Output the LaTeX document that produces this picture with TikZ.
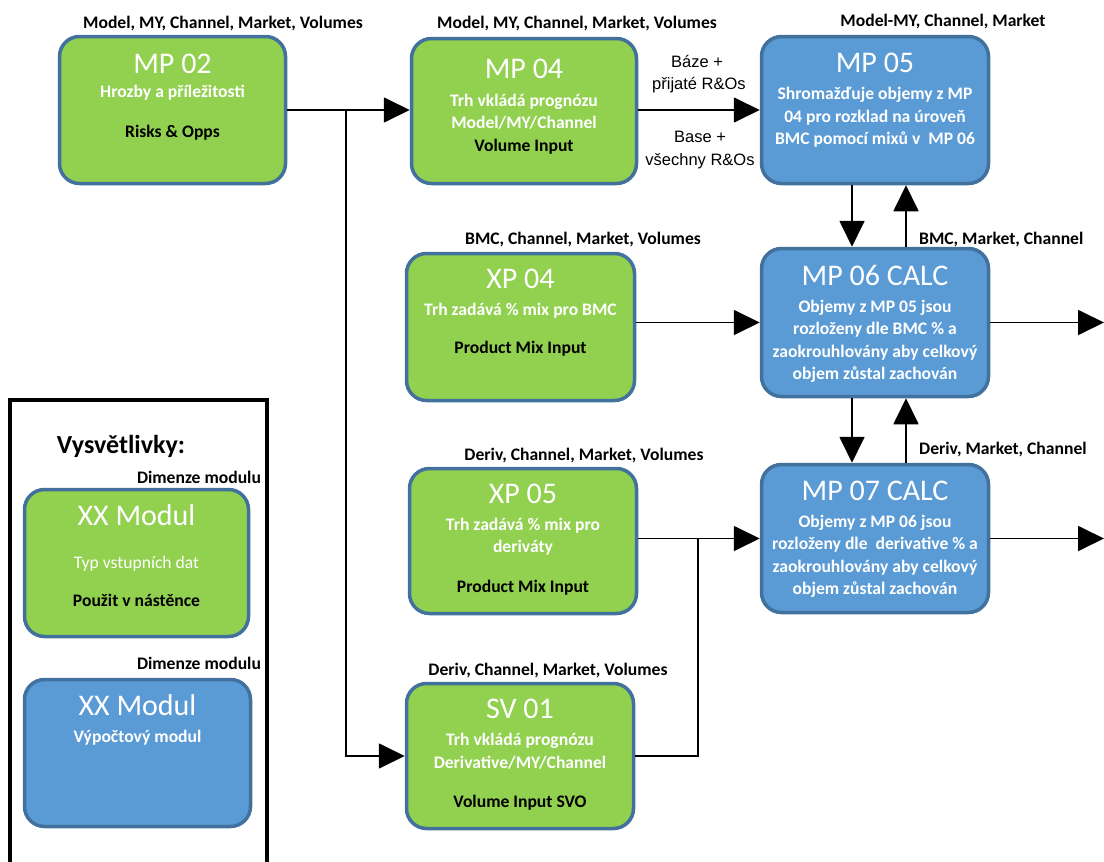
\documentclass[tikz,border=0pt]{standalone}
\usepackage{fontspec}
\setmainfont{Carlito}
\newfontfamily\arialf{Liberation Sans}
\usetikzlibrary{arrows.meta,calc}
\definecolor{gfill}{HTML}{92D050}
\definecolor{bfill}{HTML}{5B9BD5}
\definecolor{bord}{HTML}{41719C}
\tikzset{
  modbox/.style={draw=bord, line width=3.5pt, rounded corners=20pt, inner sep=0pt},
  gbox/.style={modbox, fill=gfill},
  bbox/.style={modbox, fill=bfill},
  ttl/.style={text=white, font=\fontsize{30}{30}\selectfont, anchor=base, inner sep=0pt},
  wtxt/.style={text=white, font=\bfseries\fontsize{17.6}{17.6}\selectfont, anchor=base, inner sep=0pt},
  wreg/.style={text=white, font=\fontsize{17.6}{17.6}\selectfont, anchor=base, inner sep=0pt},
  btxt/.style={text=black, font=\bfseries\fontsize{17.6}{17.6}\selectfont, anchor=base, inner sep=0pt},
  elbl/.style={text=black, font=\arialf\fontsize{16.5}{16.5}\selectfont, anchor=base, inner sep=0pt},
  arr/.style={-{Triangle[length=26pt,width=25pt]}, line width=1.8pt},
  conn/.style={line width=1.8pt},
}
\begin{document}
\begin{tikzpicture}[x=1pt,y=-1pt]
\useasboundingbox (0,0) rectangle (1104,862);

% boxes
\node[gbox, minimum width=226pt, minimum height=147pt] (mp02) at (172.5,110) {};
\node[gbox, minimum width=225pt, minimum height=145pt] (mp04) at (524,111) {};
\node[bbox, minimum width=227pt, minimum height=147pt] (mp05) at (875,110) {};
\node[gbox, minimum width=228pt, minimum height=147pt] (xp04) at (520.5,327) {};
\node[bbox, minimum width=227pt, minimum height=148pt] (mp06) at (875,322.5) {};
\node[gbox, minimum width=227pt, minimum height=145pt] (xp05) at (523,541) {};
\node[bbox, minimum width=227pt, minimum height=148pt] (mp07) at (875,538.5) {};
\node[gbox, minimum width=227pt, minimum height=145pt] (sv01) at (520,756) {};

% MP 02
\node[btxt] (l02) at (223,28) {Model, MY, Channel, Market, Volumes};
\node[ttl] (t02) at (172.5,73) {MP 02};
\node[wtxt] (a02) at (172.5,97) {Hrozby a příležitosti};
\node[btxt] (b02) at (172.5,137) {Risks \& Opps};

% MP 04
\node[btxt] (l04) at (577,28) {Model, MY, Channel, Market, Volumes};
\node[ttl] (t04) at (524,78) {MP 04};
\node[wtxt] (a04) at (524,106) {Trh vkládá prognózu};
\node[wtxt] (c04) at (524,128) {Model/MY/Channel};
\node[btxt] (b04) at (524,151) {Volume Input};

% MP 05
\node[btxt] (l05) at (943,27) {Model-MY, Channel, Market};
\node[ttl] (t05) at (875,72) {MP 05};
\node[wtxt] (a05) at (875,99) {Shromažďuje objemy z MP};
\node[wtxt] (c05) at (875,122) {04 pro rozklad na úroveň};
\node[wtxt] (d05) at (875,144) {BMC pomocí mixů v~ MP 06};

% XP 04
\node[btxt] (lx4) at (583,244) {BMC, Channel, Market, Volumes};
\node[ttl] (tx4) at (520.5,288) {XP 04};
\node[wtxt] (ax4) at (520.5,315) {Trh zadává \% mix pro BMC};
\node[btxt] (bx4) at (520.5,353) {Product Mix Input};

% MP 06
\node[ttl] (t06) at (875,285) {MP 06 CALC};
\node[wtxt] (a06) at (875,312) {Objemy z MP 05 jsou};
\node[wtxt] (c06) at (875,334) {rozloženy dle BMC \% a};
\node[wtxt] (d06) at (875,357) {zaokrouhlovány aby celkový};
\node[wtxt] (e06) at (875,379) {objem zůstal zachován};
\node[btxt, anchor=base west] (l06) at (919,244) {BMC, Market, Channel};

% XP 05
\node[btxt] (lx5) at (584,460) {Deriv, Channel, Market, Volumes};
\node[ttl] (tx5) at (523,503) {XP 05};
\node[wtxt] (ax5) at (523,530) {Trh zadává \% mix pro};
\node[wtxt] (cx5) at (523,552) {deriváty};
\node[btxt] (bx5) at (523,592) {Product Mix Input};

% MP 07
\node[ttl] (t07) at (875,500) {MP 07 CALC};
\node[wtxt] (a07) at (875,527) {Objemy z MP 06 jsou};
\node[wtxt] (c07) at (875,549) {rozloženy dle~ derivative \% a};
\node[wtxt] (d07) at (875,572) {zaokrouhlovány aby celkový};
\node[wtxt] (e07) at (875,594) {objem zůstal zachován};
\node[btxt, anchor=base west] (l07) at (919,454) {Deriv, Market, Channel};

% SV 01
\node[btxt] (ls1) at (548,675) {Deriv, Channel, Market, Volumes};
\node[ttl] (ts1) at (520,718) {SV 01};
\node[wtxt] (as1) at (520,745) {Trh vkládá prognózu};
\node[wtxt] (cs1) at (520,768) {Derivative/MY/Channel};
\node[btxt] (bs1) at (520,807) {Volume Input SVO};

% edge labels
\node[elbl] (e1) at (697,67) {Báze +};
\node[elbl] (e2) at (699,89) {přijaté R\&Os};
\node[elbl] (e3) at (700,142) {Base +};
\node[elbl] (e4) at (700,165) {všechny R\&Os};

% connectors
\coordinate (j1) at (346,110);
\coordinate (j2) at (698,538.5);
\coordinate (o1) at (1104,0);
\draw[arr] (mp02.east |- j1) -- (mp04.west |- j1);
\draw[arr] (j1) |- (sv01.west);
\draw[arr] (mp04.east |- mp05.west) -- (mp05.west);
\draw[arr] ([xshift=-23pt]mp05.south) -- ([xshift=-23pt]mp06.north);
\draw[arr] ([xshift=31pt]mp06.north) -- ([xshift=31pt]mp05.south);
\draw[arr] (mp06.west -| xp04.east) -- (mp06.west);
\draw[arr] (mp06.east) -- (mp06.east -| o1);
\draw[arr] ([xshift=-23pt]mp06.south) -- ([xshift=-23pt]mp07.north);
\draw[arr] ([xshift=31pt]mp07.north) -- ([xshift=31pt]mp06.south);
\draw[arr] (mp07.west -| xp05.east) -- (mp07.west);
\draw[conn] (sv01.east) -| (j2);
\draw[arr] (mp07.east) -- (mp07.east -| o1);

% legend
\draw[line width=4pt] (10,880) -- (10,400) -- (267,400) -- (267,880);
\node[text=black, font=\bfseries\fontsize{26}{26}\selectfont, anchor=base, inner sep=0pt] (lg) at (121,453) {Vysvětlivky:};
\node[btxt] (ld1) at (199,483) {Dimenze modulu};
\node[gbox, minimum width=224pt, minimum height=147pt] (lg1) at (136.5,563) {};
\node[ttl] (lt1) at (136.5,525) {XX Modul};
\node[wreg] (la1) at (136.5,568) {Typ vstupních dat};
\node[btxt] (lb1) at (136.5,606) {Použit v nástěnce};
\node[btxt] (ld2) at (199,669) {Dimenze modulu};
\node[bbox, minimum width=226pt, minimum height=147pt] (lg2) at (137.5,753) {};
\node[ttl] (lt2) at (137.5,715) {XX Modul};
\node[wtxt] (la2) at (137.5,742) {Výpočtový modul};
\end{tikzpicture}
\end{document}
